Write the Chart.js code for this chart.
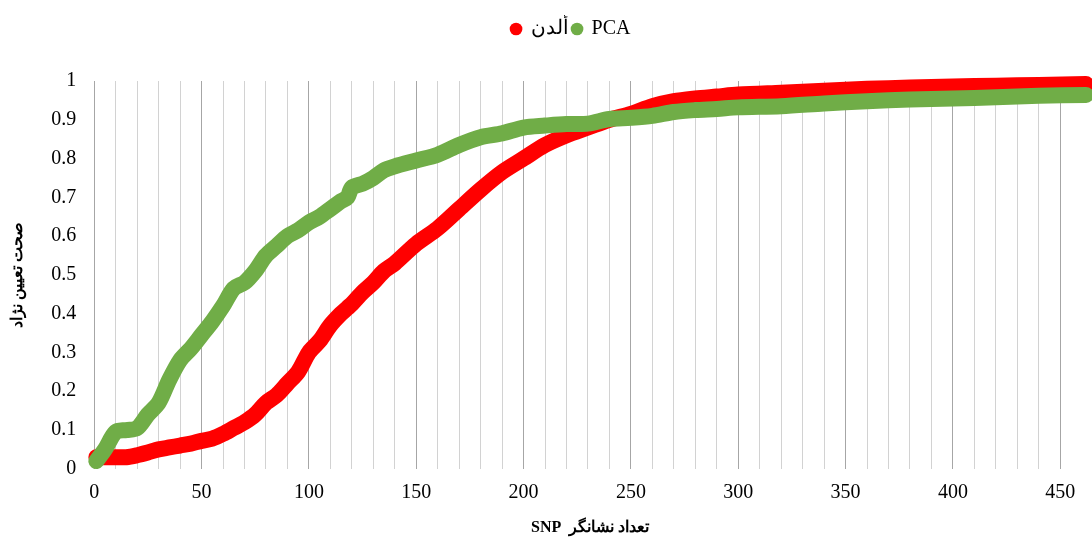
<!DOCTYPE html>
<html lang="fa">
<head>
<meta charset="UTF-8">
<title>SNP accuracy</title>
<script src="https://cdn.jsdelivr.net/npm/chart.js"></script>
<style>
  html, body { margin: 0; padding: 0; background: #fff; }
  #wrap { width: 1092px; height: 538px; }
</style>
</head>
<body>
<div id="wrap"><canvas id="chart"></canvas></div>
<script>
// number of SNP markers (x) where the curves were read
const snpCounts = [1, 5, 10, 15, 20, 25, 30, 35, 40, 45, 50, 55, 60, 65, 70, 75, 80, 85, 90, 95,
  100, 105, 110, 115, 118, 120, 125, 130, 135, 140, 150, 160, 170, 180, 190, 200, 210, 220, 230,
  240, 250, 260, 270, 280, 290, 300, 320, 340, 360, 380, 400, 420, 440, 462];

// Alden accuracy
const aldenValues = [0.03, 0.03, 0.03, 0.03, 0.035, 0.042, 0.05, 0.055, 0.06, 0.065, 0.072, 0.078,
  0.09, 0.105, 0.12, 0.14, 0.17, 0.19, 0.22, 0.25, 0.30, 0.33, 0.37, 0.40, 0.415, 0.425, 0.455,
  0.48, 0.51, 0.53, 0.58, 0.62, 0.67, 0.72, 0.765, 0.80, 0.835, 0.86, 0.88, 0.90, 0.915, 0.935,
  0.948, 0.955, 0.96, 0.965, 0.97, 0.975, 0.98, 0.983, 0.986, 0.988, 0.99, 0.992];

// PCA accuracy
const pcaValues = [0.02, 0.05, 0.095, 0.10, 0.105, 0.14, 0.17, 0.23, 0.28, 0.31, 0.345, 0.38,
  0.42, 0.465, 0.48, 0.51, 0.55, 0.575, 0.60, 0.615, 0.635, 0.65, 0.67, 0.69, 0.70, 0.725, 0.735,
  0.75, 0.77, 0.78, 0.795, 0.81, 0.835, 0.855, 0.865, 0.88, 0.885, 0.889, 0.89, 0.902, 0.905,
  0.91, 0.92, 0.925, 0.928, 0.932, 0.935, 0.942, 0.948, 0.952, 0.955, 0.958, 0.962, 0.964];

const seriesNames = ['ألدن', 'PCA'];
const xLabelStep = 50;

const toPoints = vals => snpCounts.map((x, i) => ({ x, y: vals[i] }));

const serif = "'Liberation Serif', 'Times New Roman', serif";

const lineStyle = color => ({
  borderColor: color,
  backgroundColor: color,
  borderWidth: 16,
  borderCapStyle: 'round',
  borderJoinStyle: 'round',
  pointRadius: 0,
  pointHoverRadius: 0,
  tension: 0.3,
  fill: false,
  clip: 10
});

// extra room under the legend, and nudge it a bit right like the original
const legendSpacing = {
  id: 'legendSpacing',
  beforeInit(chart) {
    const fit = chart.legend.fit;
    chart.legend.fit = function () {
      fit.call(this);
      this.height += 32;
    };
  },
  afterLayout(chart) {
    chart.legend.left += 24;
    chart.legend.right += 24;
  }
};

// PCA listed first so it is painted over the red curve; legend reversed to keep red first
new Chart(document.getElementById('chart'), {
  type: 'line',
  data: {
    datasets: [
      Object.assign({ label: seriesNames[1], data: toPoints(pcaValues) }, lineStyle('#70ad47')),
      Object.assign({ label: seriesNames[0], data: toPoints(aldenValues) }, lineStyle('#ff0000'))
    ]
  },
  options: {
    responsive: true,
    maintainAspectRatio: false,
    animation: false,
    layout: { padding: { left: 8, right: 6, top: 15, bottom: 1 } },
    plugins: {
      legend: {
        position: 'top',
        reverse: true,
        labels: {
          usePointStyle: true,
          pointStyle: 'circle',
          boxWidth: 9,
          boxHeight: 9,
          padding: 4,
          color: '#000',
          font: { family: serif, size: 20 },
          generateLabels: chart => Chart.defaults.plugins.legend.labels.generateLabels(chart)
            .map(l => Object.assign(l, { lineWidth: 0 }))
        }
      },
      tooltip: { enabled: false }
    },
    scales: {
      x: {
        type: 'linear',
        min: 0,
        max: 462,
        afterBuildTicks: scale => {
          scale.ticks = scale.ticks.filter(t => t.value % 10 === 0);
        },
        ticks: {
          stepSize: 10,
          autoSkip: false,
          maxRotation: 0,
          padding: 12,
          color: '#000',
          font: { family: serif, size: 20 },
          callback: v => (v % xLabelStep === 0 ? v : '')
        },
        grid: {
          drawTicks: false,
          color: ctx => (ctx.tick && ctx.tick.value % 50 === 0 ? '#a6a6a6' : '#d2d2d2'),
          lineWidth: 1
        },
        border: { display: false },
        title: {
          display: true,
          text: 'SNP  تعداد نشانگر',
          color: '#000',
          font: { family: serif, size: 16, weight: 'bold' },
          padding: { top: 1, bottom: 0 }
        }
      },
      y: {
        min: 0,
        max: 1,
        ticks: {
          stepSize: 0.1,
          padding: 18,
          color: '#000',
          font: { family: serif, size: 20 },
          callback: v => +v.toFixed(1)
        },
        grid: { display: false, drawTicks: false },
        border: { display: false },
        title: {
          display: true,
          text: 'صحت تعیین نژاد',
          color: '#000',
          font: { family: serif, size: 16, weight: 'bold' },
          padding: { top: 0, bottom: 6 }
        }
      }
    }
  },
  plugins: [legendSpacing]
});
</script>
</body>
</html>
